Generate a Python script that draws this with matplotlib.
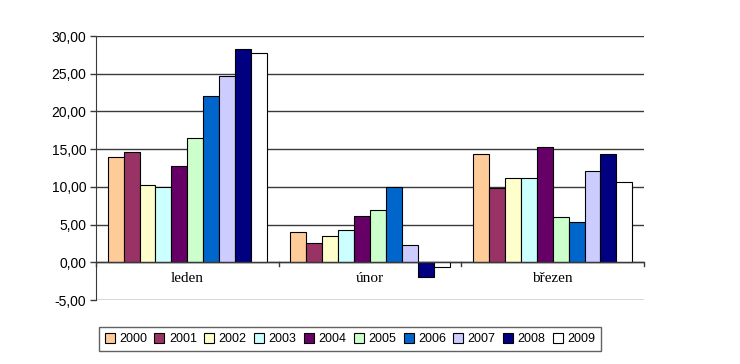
import numpy as np
import matplotlib
matplotlib.use("Agg")
import matplotlib.pyplot as plt
from matplotlib.patches import Patch

# data
months = ["leden", "únor", "březen"]
years = ["2000", "2001", "2002", "2003", "2004", "2005", "2006", "2007", "2008", "2009"]
leden = [14.0, 14.6, 10.2, 10.0, 12.8, 16.5, 22.1, 24.7, 28.3, 27.8]
unor = [4.0, 2.5, 3.5, 4.3, 6.2, 6.95, 10.0, 2.3, -1.95, -0.6]
brezen = [14.3, 9.9, 11.15, 11.15, 15.3, 6.0, 5.4, 12.1, 14.3, 10.6]
colors = ["#FFCC99", "#993366", "#FFFFCC", "#CCFFFF", "#660066",
          "#CCFFCC", "#0066CC", "#CCCCFF", "#000080", "#FFFFFF"]

values = np.array([leden, unor, brezen])  # month x year

fig = plt.figure(figsize=(7.4, 3.64), dpi=100)
ax = fig.add_axes([96 / 740, 1 - 300 / 364, 548 / 740, 264 / 364])

x = np.arange(len(months))
bw = 0.0872
for i, yr in enumerate(years):
    offs = (i - (len(years) - 1) / 2) * bw
    ax.bar(x + offs, values[:, i], width=bw, color=colors[i],
           edgecolor="black", linewidth=0.8, zorder=3)

ax.set_xlim(-0.5, len(months) - 0.5)
ax.set_ylim(-5, 30)
yt = np.arange(-5, 31, 5)
ax.set_yticks(yt)
ax.set_yticklabels([f"{v:.2f}".replace(".", ",") for v in yt],
                   family="Liberation Sans", fontsize=10)
ax.yaxis.grid(True, color="#3a3a3a", linewidth=1, zorder=0)
ax.tick_params(axis="y", length=4, width=1, color="#3a3a3a", pad=3)

# category axis drawn at zero
ax.set_xticks([])
ax.axhline(0, color="#3a3a3a", linewidth=1, zorder=4)
for b in np.arange(-0.5, len(months), 1.0):
    ax.plot([b, b], [0, -0.45], color="#3a3a3a", linewidth=1, zorder=4, clip_on=False)
for xi, m in zip(x, months):
    ax.text(xi, -2.1, m, ha="center", va="center", family="Liberation Serif", fontsize=11)

for s in ["top", "right", "bottom"]:
    ax.spines[s].set_visible(False)
ax.spines["left"].set_color("#3a3a3a")

handles = [Patch(facecolor=c, edgecolor="black", linewidth=0.8, label=y)
           for c, y in zip(colors, years)]
leg = fig.legend(handles=handles, loc="center", bbox_to_anchor=(350 / 740, 1 - 339 / 364),
                 ncol=10, frameon=True, fancybox=False, handlelength=0.8, handleheight=0.8,
                 handletextpad=0.35, columnspacing=0.6, borderpad=0.45,
                 prop={"family": "Liberation Sans", "size": 9})
leg.get_frame().set_edgecolor("#3a3a3a")
leg.get_frame().set_linewidth(1)

fig.savefig("out.png", dpi=100)
